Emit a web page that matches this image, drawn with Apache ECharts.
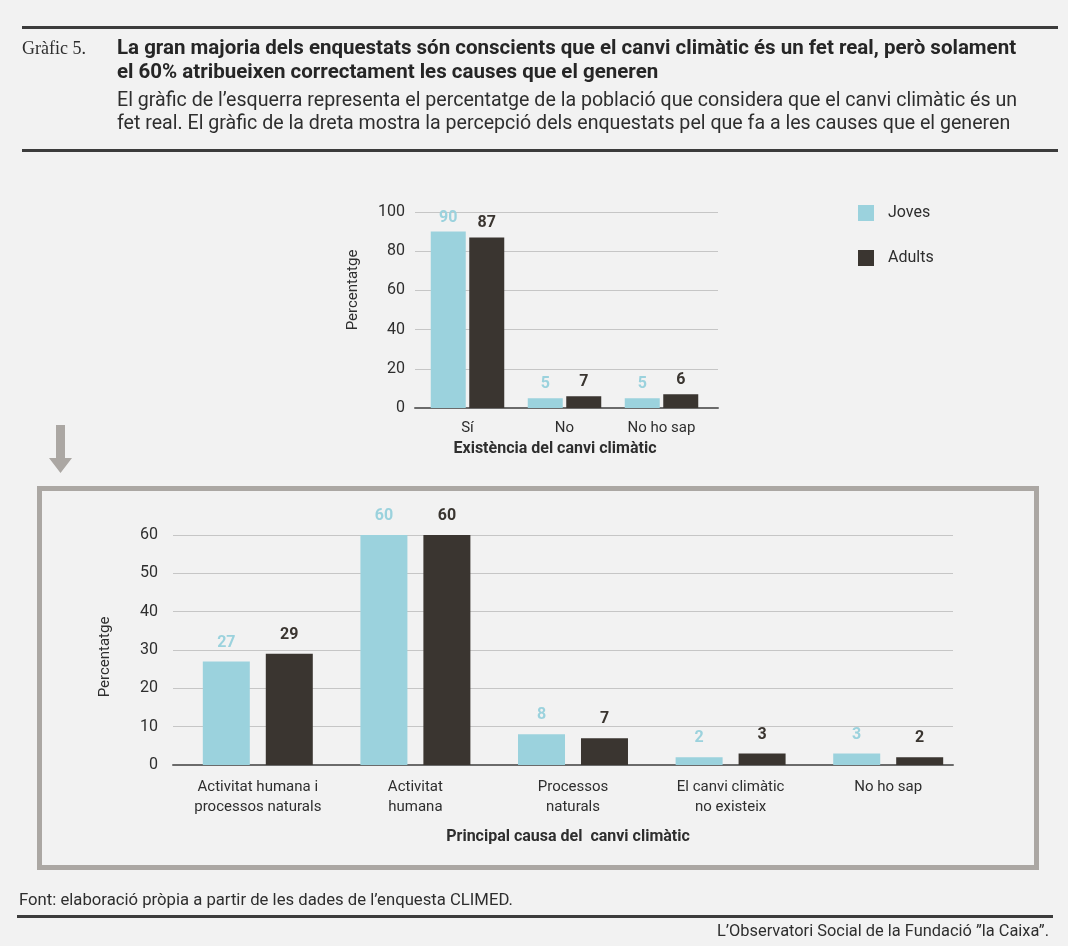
<!DOCTYPE html>
<html>
<head>
<meta charset="utf-8">
<script src="https://cdn.jsdelivr.net/npm/echarts@6/dist/echarts.min.js"></script>
<style>
html,body{margin:0;padding:0;background:#f2f2f2;}
#main{width:1068px;height:946px;}
</style>
</head>
<body>
<div id="main"></div>
<script>
// ---- data ----
const seriesNames = ['Joves', 'Adults'];
const topCategories = ['Sí', 'No', 'No ho sap'];
const topJoves = [90, 5, 5];
const topAdults = [87, 6, 7];
const topJovesLabels = [90, 5, 5];
const topAdultsLabels = [87, 7, 6];
const topTicks = [0, 20, 40, 60, 80, 100];

const bottomCategories = ['Activitat humana i\nprocessos naturals', 'Activitat\nhumana', 'Processos\nnaturals', 'El canvi climàtic\nno existeix', 'No ho sap'];
const bottomJoves = [27, 60, 8, 2, 3];
const bottomAdults = [29, 60, 7, 3, 2];
const bottomTicks = [0, 10, 20, 30, 40, 50, 60];

const titleLabel = 'Gràfic 5.';
const titleLines = ['La gran majoria dels enquestats són conscients que el canvi climàtic és un fet real, però solament', 'el 60% atribueixen correctament les causes que el generen'];
const subtitleLines = ['El gràfic de l’esquerra representa el percentatge de la població que considera que el canvi climàtic és un', 'fet real. El gràfic de la dreta mostra la percepció dels enquestats pel que fa a les causes que el generen'];
const topAxisName = 'Existència del canvi climàtic';
const bottomAxisName = 'Principal causa del  canvi climàtic';
const yAxisName = 'Percentatge';
const sourceText = 'Font: elaboració pròpia a partir de les dades de l’enquesta CLIMED.';
const creditText = 'L’Observatori Social de la Fundació ”la Caixa”.';

// ---- style ----
const FONT = 'Roboto, "Liberation Sans", sans-serif';
const C_JOVES = '#9bd2dd';
const C_ADULTS = '#3a3530';
const C_TEXT = '#2e2e2e';
const C_GRID = '#c6c6c6';
const C_AXIS = '#6b6b6b';
const C_FRAME = '#aba7a3';
const C_RULE = '#3c3c3c';

const chart = echarts.init(document.getElementById('main'), null, {renderer: 'canvas'});

function lineYAxis(gridIndex, ticks, fs, margin) {
  return {
    type: 'value', gridIndex: gridIndex,
    min: ticks[0], max: ticks[ticks.length - 1], interval: ticks[1] - ticks[0],
    axisLine: {show: false}, axisTick: {show: false},
    axisLabel: {color: C_TEXT, fontFamily: FONT, fontSize: fs, margin: margin},
    splitLine: {lineStyle: {color: C_GRID, width: 1}}
  };
}
function hiddenYAxis(gridIndex, ticks) {
  return {
    type: 'value', gridIndex: gridIndex,
    min: ticks[0], max: ticks[ticks.length - 1], interval: ticks[1] - ticks[0],
    axisLine: {show: false}, axisTick: {show: false}, axisLabel: {show: false}, splitLine: {show: false}
  };
}
function lineXAxis(gridIndex, cats) {
  return {
    type: 'category', gridIndex: gridIndex, data: cats,
    axisLine: {show: true, lineStyle: {color: C_AXIS, width: 2}},
    axisTick: {show: false}, axisLabel: {show: false}, splitLine: {show: false}
  };
}
function barXAxis(gridIndex, cats, fs, margin) {
  return {
    type: 'category', gridIndex: gridIndex, data: cats,
    axisLine: {show: false}, axisTick: {show: false},
    axisLabel: {color: C_TEXT, fontFamily: FONT, fontSize: fs, margin: margin, lineHeight: 20, interval: 0},
    splitLine: {show: false}
  };
}
function barSeries(name, data, labels, axisIndex, color, labelColor, barWidth, barGap, fs, dist, z) {
  return {
    name: name, type: 'bar', xAxisIndex: axisIndex, yAxisIndex: axisIndex,
    data: data, barWidth: barWidth, barGap: barGap, z: z,
    itemStyle: {color: color},
    label: {
      show: true, position: 'top', distance: dist,
      color: labelColor, fontFamily: FONT, fontWeight: 'bold', fontSize: fs,
      formatter: function (p) { return String(labels[p.dataIndex]); }
    },
    emphasis: {disabled: true}
  };
}

const option = {
  backgroundColor: '#f2f2f2',
  animation: false,
  legend: {
    data: seriesNames, orient: 'vertical', left: 858, top: 205, padding: 0,
    itemWidth: 16, itemHeight: 16, itemGap: 29, icon: 'rect',
    textStyle: {color: C_TEXT, fontFamily: FONT, fontSize: 16, padding: [0, 0, 0, 9]},
    selectedMode: false
  },
  grid: [
    {left: 415, top: 212, width: 303, height: 196},
    {left: 419, top: 212, width: 291, height: 196},
    {left: 173, top: 535, width: 780, height: 230},
    {left: 179, top: 535, width: 788, height: 230}
  ],
  xAxis: [
    lineXAxis(0, topCategories),
    barXAxis(1, topCategories, 15, 10),
    lineXAxis(2, bottomCategories),
    barXAxis(3, bottomCategories, 15, 12)
  ],
  yAxis: [
    lineYAxis(0, topTicks, 16, 10),
    hiddenYAxis(1, topTicks),
    lineYAxis(2, bottomTicks, 16, 15),
    hiddenYAxis(3, bottomTicks)
  ],
  series: [
    barSeries(seriesNames[0], topJoves, topJovesLabels, 1, C_JOVES, C_JOVES, 35, '10%', 16, 6, 3),
    barSeries(seriesNames[1], topAdults, topAdultsLabels, 1, C_ADULTS, C_ADULTS, 35, '10%', 16, 6, 3),
    barSeries(seriesNames[0], bottomJoves, bottomJoves, 3, C_JOVES, C_JOVES, 47, '34%', 16, 11, 3),
    barSeries(seriesNames[1], bottomAdults, bottomAdults, 3, C_ADULTS, C_ADULTS, 47, '34%', 16, 11, 3)
  ],
  graphic: [
    // header rules
    {type: 'rect', shape: {x: 22, y: 26, width: 1036, height: 3}, style: {fill: C_RULE}, silent: true},
    {type: 'rect', shape: {x: 22, y: 149, width: 1036, height: 3}, style: {fill: C_RULE}, silent: true},
    {type: 'text', x: 22, y: 49, style: {text: titleLabel, font: '18px "Liberation Serif", "DejaVu Serif", serif', fill: C_TEXT, textVerticalAlign: 'middle'}, silent: true},
    {type: 'text', x: 117, y: 49, style: {text: titleLines[0], font: 'bold 20.5px ' + FONT, fill: '#262626', textVerticalAlign: 'middle'}, silent: true},
    {type: 'text', x: 117, y: 73, style: {text: titleLines[1], font: 'bold 20.5px ' + FONT, fill: '#262626', textVerticalAlign: 'middle'}, silent: true},
    {type: 'text', x: 117, y: 101, style: {text: subtitleLines[0], font: '19.6px ' + FONT, fill: C_TEXT, textVerticalAlign: 'middle'}, silent: true},
    {type: 'text', x: 117, y: 124, style: {text: subtitleLines[1], font: '19.6px ' + FONT, fill: C_TEXT, textVerticalAlign: 'middle'}, silent: true},
    // axis titles
    {type: 'text', x: 353, y: 290, rotation: Math.PI / 2, style: {text: yAxisName, font: '15px ' + FONT, fill: C_TEXT, textAlign: 'center', textVerticalAlign: 'middle'}, silent: true},
    {type: 'text', x: 555, y: 449, style: {text: topAxisName, font: 'bold 16px ' + FONT, fill: C_TEXT, textAlign: 'center', textVerticalAlign: 'middle'}, silent: true},
    {type: 'text', x: 105, y: 657, rotation: Math.PI / 2, style: {text: yAxisName, font: '15px ' + FONT, fill: C_TEXT, textAlign: 'center', textVerticalAlign: 'middle'}, silent: true},
    {type: 'text', x: 568, y: 837, style: {text: bottomAxisName, font: 'bold 16px ' + FONT, fill: C_TEXT, textAlign: 'center', textVerticalAlign: 'middle'}, silent: true},
    // arrow
    {type: 'polygon', shape: {points: [[56, 425], [65, 425], [65, 458], [72, 458], [60.5, 473], [49, 458], [56, 458]]}, style: {fill: C_FRAME}, silent: true},
    // frame
    {type: 'rect', shape: {x: 39.5, y: 488.5, width: 997, height: 379}, style: {fill: 'none', stroke: C_FRAME, lineWidth: 5}, silent: true},
    // footer
    {type: 'text', x: 19, y: 901, style: {text: sourceText, font: '16.7px ' + FONT, fill: C_TEXT, textVerticalAlign: 'middle'}, silent: true},
    {type: 'rect', shape: {x: 17, y: 915, width: 1036, height: 3}, style: {fill: C_RULE}, silent: true},
    {type: 'text', x: 1049, y: 932, style: {text: creditText, font: '16.4px ' + FONT, fill: C_TEXT, textAlign: 'right', textVerticalAlign: 'middle'}, silent: true}
  ]
};
chart.setOption(option);
</script>
</body>
</html>
